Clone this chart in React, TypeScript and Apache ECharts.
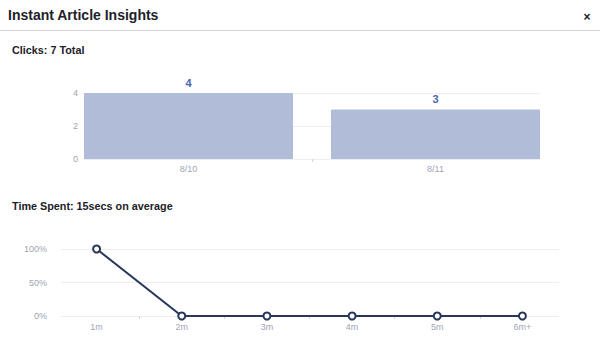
import React, { useEffect, useRef } from "react";
import * as echarts from "echarts";

const pageTitle = "Instant Article Insights";
const clicksTitle = "Clicks: 7 Total";
const timeTitle = "Time Spent: 15secs on average";

const clickDays = ["8/10", "8/11"];
const clickCounts = [4, 3];

const timeBuckets = ["1m", "2m", "3m", "4m", "5m", "6m+"];
const timeShares = [100, 0, 0, 0, 0, 0];

const FONT = "'Liberation Sans', Arial, Helvetica, sans-serif";
const LABEL_GRAY = "#9ea5b4";
const SPLIT = "#eceef2";
const NAVY = "#28365a";
const TICK = "#d0d4dc";

// inner category boundaries (ticks between categories only)
const innerBounds = (n: number) => Array.from({ length: n - 1 }, (_, i) => i + 1);

export default function App() {
  const ref = useRef<HTMLDivElement>(null);
  useEffect(() => {
    if (!ref.current) return;
    const chart = echarts.init(ref.current, null, { renderer: "svg" });
    const tickAxis = (gridIndex: number, n: number) => ({
      gridIndex,
      type: "value",
      min: 0,
      max: n,
      position: "bottom",
      axisLine: { show: false },
      axisLabel: { show: false },
      splitLine: { show: false },
      axisTick: { show: true, length: 3, customValues: innerBounds(n), lineStyle: { color: TICK } },
    });
    chart.setOption({
      animation: false,
      backgroundColor: "#ffffff",
      textStyle: { fontFamily: FONT },
      title: [
        { text: pageTitle, left: 8, top: 8, padding: 0, textStyle: { fontSize: 14, fontWeight: "bold", color: "#1d2129", fontFamily: FONT } },
        { text: clicksTitle, left: 12, top: 44, padding: 0, textStyle: { fontSize: 10.8, fontWeight: "bold", color: "#1d2129", fontFamily: FONT } },
        { text: timeTitle, left: 12, top: 200, padding: 0, textStyle: { fontSize: 10.8, fontWeight: "bold", color: "#1d2129", fontFamily: FONT } },
      ],
      graphic: [
        { type: "line", shape: { x1: 0, y1: 30.5, x2: 600, y2: 30.5 }, style: { stroke: "#d3d3d3", lineWidth: 1 } },
        { type: "text", x: 587, y: 17, style: { text: "×", fill: "#1d2129", font: "bold 12px " + FONT, align: "center", verticalAlign: "middle" } },
      ],
      grid: [
        { left: 84, right: 60, top: 93, bottom: 194 },
        { left: 65, right: 41, top: 93, bottom: 194 },
        { left: 61, right: 41, top: 249, bottom: 37 },
        { left: 54, right: 35, top: 249, bottom: 37 },
      ],
      xAxis: [
        { gridIndex: 0, type: "value", show: false, min: 0, max: 1 },
        {
          gridIndex: 1,
          type: "category",
          data: clickDays,
          boundaryGap: true,
          axisLine: { show: false },
          axisTick: { show: false },
          axisLabel: { color: LABEL_GRAY, fontSize: 9, margin: 5, fontFamily: FONT },
        },
        { gridIndex: 2, type: "value", show: false, min: 0, max: 1 },
        {
          gridIndex: 3,
          type: "category",
          data: timeBuckets,
          boundaryGap: true,
          axisLine: { show: false },
          axisTick: { show: false },
          axisLabel: { color: LABEL_GRAY, fontSize: 9, margin: 6, fontFamily: FONT },
        },
        tickAxis(1, clickDays.length),
        tickAxis(3, timeBuckets.length),
      ],
      yAxis: [
        {
          gridIndex: 0,
          type: "value",
          min: 0,
          max: 4,
          interval: 2,
          axisLine: { show: false },
          axisTick: { show: false },
          axisLabel: { color: LABEL_GRAY, fontSize: 9, margin: 6, fontFamily: FONT },
          splitLine: { lineStyle: { color: SPLIT } },
        },
        { gridIndex: 1, type: "value", min: 0, max: 4, show: false },
        {
          gridIndex: 2,
          type: "value",
          min: 0,
          max: 100,
          interval: 50,
          axisLine: { show: false },
          axisTick: { show: false },
          axisLabel: { color: LABEL_GRAY, fontSize: 9, margin: 14, formatter: "{value}%", fontFamily: FONT },
          splitLine: { lineStyle: { color: SPLIT } },
        },
        { gridIndex: 3, type: "value", min: 0, max: 100, show: false },
      ],
      series: [
        {
          type: "bar",
          xAxisIndex: 1,
          yAxisIndex: 1,
          data: clickCounts,
          barWidth: 209,
          itemStyle: { color: "#b1bcd8", borderRadius: [1, 1, 0, 0] },
          label: { show: true, position: "top", distance: 5, color: "#4a65a9", fontWeight: "bold", fontSize: 11, fontFamily: FONT },
        },
        {
          type: "line",
          xAxisIndex: 3,
          yAxisIndex: 3,
          data: timeShares,
          symbol: "circle",
          symbolSize: 7,
          showAllSymbol: true,
          lineStyle: { color: NAVY, width: 2 },
          itemStyle: { color: "#ffffff", borderColor: NAVY, borderWidth: 2 },
        },
      ],
    });
    return () => chart.dispose();
  }, []);
  return <div ref={ref} style={{ position: "absolute", left: 0, top: 0, width: 600, height: 353 }} />;
}
